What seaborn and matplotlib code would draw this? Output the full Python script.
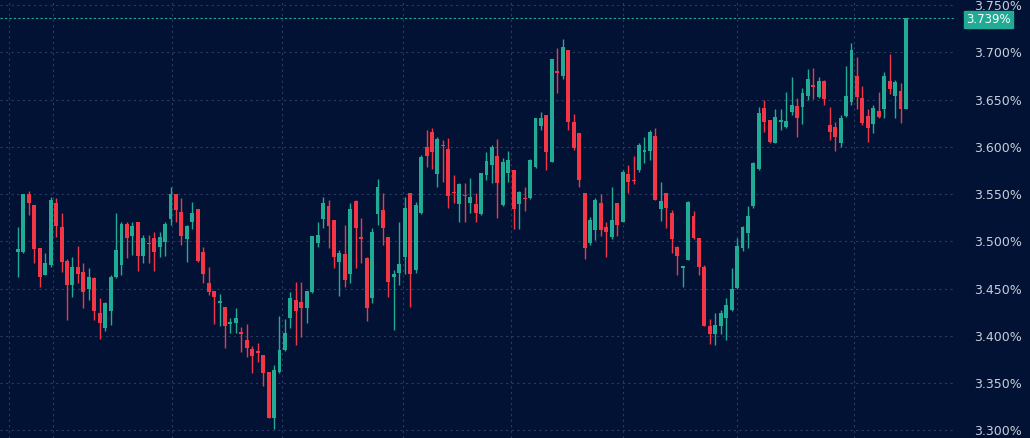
import numpy as np
import pandas as pd
import matplotlib
matplotlib.use("Agg")
import matplotlib.pyplot as plt
import seaborn as sns

opens = [3.489,3.489,3.550,3.538,3.493,3.464,3.475,3.541,3.515,3.479,3.454,3.473,3.468,3.450,3.461,3.424,3.408,3.426,3.462,3.475,
         3.518,3.506,3.520,3.485,3.498,3.504,3.494,3.499,3.524,3.550,3.531,3.502,3.520,3.534,3.489,3.456,3.447,3.435,3.431,3.413,
         3.414,3.404,3.396,3.386,3.384,3.380,3.362,3.313,3.362,3.385,3.419,3.438,3.436,3.429,3.446,3.498,3.524,3.537,3.523,3.478,
         3.487,3.465,3.543,3.505,3.482,3.440,3.529,3.533,3.505,3.462,3.467,3.483,3.551,3.470,3.530,3.600,3.616,3.571,3.602,3.598,
         3.552,3.540,3.549,3.541,3.540,3.529,3.570,3.581,3.590,3.538,3.572,3.576,3.540,3.546,3.546,3.579,3.622,3.634,3.584,3.680,
         3.675,3.702,3.626,3.615,3.551,3.498,3.512,3.541,3.515,3.505,3.541,3.521,3.571,3.565,3.575,3.595,3.596,3.611,3.534,3.551,
         3.530,3.494,3.472,3.480,3.527,3.504,3.473,3.410,3.402,3.410,3.419,3.427,3.451,3.493,3.509,3.537,3.577,3.641,3.628,3.604,
         3.626,3.621,3.637,3.643,3.642,3.654,3.665,3.653,3.670,3.623,3.621,3.604,3.633,3.647,3.675,3.652,3.633,3.624,3.638,3.640,
         3.670,3.654,3.659,3.640]
closes = [3.492,3.550,3.541,3.492,3.462,3.477,3.544,3.516,3.478,3.454,3.473,3.466,3.446,3.462,3.426,3.414,3.435,3.462,3.491,3.518,
          3.504,3.516,3.485,3.504,3.497,3.489,3.505,3.518,3.550,3.533,3.506,3.516,3.530,3.479,3.466,3.446,3.441,3.437,3.410,3.415,
          3.419,3.402,3.387,3.379,3.382,3.361,3.313,3.364,3.385,3.403,3.440,3.426,3.430,3.447,3.506,3.507,3.541,3.516,3.483,3.488,
          3.459,3.534,3.514,3.503,3.430,3.510,3.558,3.514,3.457,3.465,3.476,3.535,3.465,3.538,3.589,3.590,3.594,3.608,3.601,3.548,
          3.551,3.561,3.548,3.547,3.530,3.572,3.585,3.600,3.562,3.584,3.586,3.534,3.552,3.545,3.586,3.630,3.630,3.595,3.693,3.678,
          3.706,3.626,3.599,3.565,3.493,3.523,3.544,3.512,3.510,3.523,3.517,3.573,3.563,3.564,3.602,3.597,3.616,3.544,3.543,3.535,
          3.502,3.484,3.474,3.542,3.504,3.473,3.410,3.402,3.412,3.424,3.433,3.450,3.495,3.515,3.527,3.583,3.636,3.626,3.605,3.632,
          3.628,3.627,3.644,3.631,3.657,3.672,3.663,3.670,3.651,3.616,3.610,3.631,3.654,3.702,3.653,3.625,3.620,3.641,3.632,3.675,
          3.661,3.669,3.640,3.736]
highs = [3.515,3.550,3.553,3.538,3.493,3.488,3.547,3.546,3.530,3.481,3.483,3.495,3.477,3.472,3.462,3.440,3.436,3.464,3.530,3.520,
         3.521,3.520,3.520,3.507,3.507,3.510,3.510,3.521,3.557,3.550,3.546,3.517,3.542,3.534,3.494,3.473,3.447,3.444,3.431,3.419,
         3.430,3.409,3.413,3.389,3.393,3.380,3.362,3.369,3.421,3.418,3.446,3.457,3.457,3.447,3.506,3.520,3.547,3.544,3.523,3.491,
         3.517,3.541,3.544,3.525,3.483,3.514,3.566,3.551,3.505,3.470,3.520,3.547,3.551,3.542,3.591,3.618,3.620,3.610,3.607,3.609,
         3.570,3.562,3.562,3.567,3.551,3.572,3.594,3.602,3.608,3.588,3.596,3.576,3.553,3.557,3.587,3.631,3.637,3.634,3.693,3.705,
         3.714,3.702,3.635,3.615,3.551,3.526,3.546,3.550,3.520,3.557,3.541,3.576,3.581,3.590,3.604,3.610,3.618,3.620,3.563,3.551,
         3.533,3.495,3.474,3.543,3.532,3.504,3.475,3.418,3.424,3.427,3.440,3.472,3.504,3.516,3.537,3.584,3.642,3.650,3.628,3.640,
         3.640,3.658,3.674,3.652,3.662,3.682,3.683,3.674,3.671,3.642,3.626,3.634,3.685,3.710,3.695,3.664,3.640,3.644,3.658,3.679,
         3.698,3.671,3.667,3.736]
lows = [3.462,3.488,3.528,3.477,3.452,3.464,3.473,3.505,3.468,3.417,3.441,3.456,3.429,3.438,3.417,3.397,3.405,3.412,3.461,3.464,
        3.482,3.486,3.469,3.477,3.477,3.469,3.483,3.484,3.517,3.521,3.496,3.478,3.513,3.478,3.456,3.443,3.413,3.410,3.387,3.403,
        3.403,3.383,3.378,3.361,3.372,3.347,3.313,3.301,3.361,3.384,3.408,3.390,3.399,3.414,3.445,3.494,3.514,3.493,3.472,3.442,
        3.452,3.456,3.472,3.477,3.416,3.435,3.517,3.496,3.441,3.406,3.454,3.465,3.431,3.467,3.529,3.579,3.577,3.558,3.563,3.535,
        3.541,3.520,3.520,3.530,3.520,3.528,3.565,3.562,3.525,3.537,3.563,3.513,3.513,3.532,3.545,3.578,3.618,3.576,3.584,3.657,
        3.672,3.618,3.597,3.558,3.481,3.496,3.501,3.506,3.483,3.502,3.506,3.521,3.551,3.561,3.573,3.583,3.586,3.544,3.522,3.514,
        3.488,3.464,3.452,3.480,3.503,3.464,3.410,3.391,3.390,3.402,3.396,3.426,3.450,3.490,3.493,3.535,3.576,3.616,3.604,3.604,
        3.618,3.620,3.634,3.610,3.624,3.649,3.651,3.652,3.644,3.607,3.596,3.600,3.632,3.644,3.640,3.623,3.605,3.615,3.631,3.631,
        3.656,3.631,3.625,3.640]
yticks = [3.300,3.350,3.400,3.450,3.500,3.550,3.600,3.650,3.700,3.750]
last_label = "3.739%"
vgrid_pos = [-1.6, 6.4, 28.3, 48.4, 70.6, 90.5, 111.0, 132.0, 153.4]

BG = "#021234"
UP = "#22ab94"
DN = "#f23645"
GRID = "#2a3b63"

sns.set_theme(style="dark")
df = pd.DataFrame({"o": opens, "c": closes, "h": highs, "l": lows})
df["i"] = np.arange(len(df))
df["up"] = df["c"] >= df["o"]

fig = plt.figure(figsize=(10.30, 4.38), dpi=100, facecolor=BG)
ax = fig.add_axes([0, 0, 955/1030, 1])
ax.set_facecolor(BG)

cols = np.where(df["up"], UP, DN)
ax.vlines(df["i"], df["l"], df["h"], colors=cols, linewidth=1.0, zorder=3)
bottom = np.minimum(df["o"], df["c"])
height = np.maximum(np.abs(df["c"] - df["o"]), 0.0012)
ax.bar(df["i"], height, bottom=bottom, width=0.72, color=cols, linewidth=0, zorder=4)

ax.set_xlim(-3.3, 172)
ax.set_ylim(3.292, 3.7553)
ax.set_yticks(yticks)
ax.yaxis.tick_right()
ax.set_yticklabels([f"{t:.3f}%" for t in yticks], color="#c9ced9", fontsize=9)
ax.tick_params(axis="y", length=0, pad=14)
ax.set_xticks([])
for p in yticks:
    ax.axhline(p, color=GRID, lw=0.8, ls=(0, (2, 3)), zorder=1)
for p in vgrid_pos:
    ax.axvline(p, color=GRID, lw=0.8, ls=(0, (2, 3)), zorder=1)
for s in ax.spines.values():
    s.set_visible(False)

ax.axhline(closes[-1], color=UP, lw=0.8, ls=(0, (2, 2)), zorder=2)
ax.annotate(last_label, xy=(1.0, closes[-1]), xycoords=("axes fraction", "data"),
            xytext=(8, -1), textcoords="offset points", va="center", ha="left",
            color="white", fontsize=8.5,
            bbox=dict(boxstyle="square,pad=0.2", fc=UP, ec=UP), annotation_clip=False)

fig.savefig("out.png", dpi=100, facecolor=BG)
